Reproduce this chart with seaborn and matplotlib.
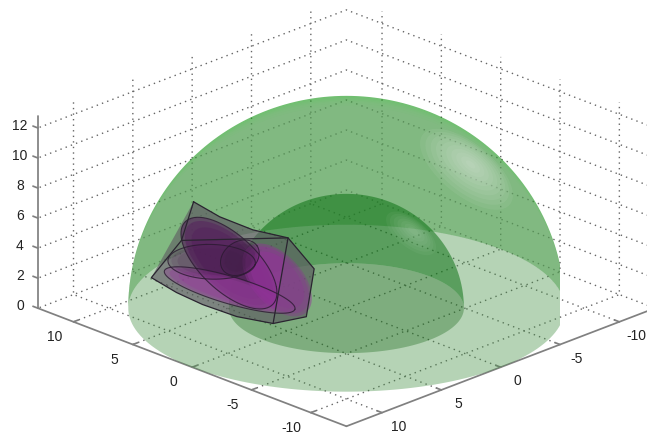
import numpy as np
import matplotlib
matplotlib.use('Agg')
import matplotlib.pyplot as plt
from mpl_toolkits.mplot3d import proj3d
from mpl_toolkits.mplot3d.art3d import Poly3DCollection
import seaborn as sns

# axis values
x_ticks = [-10, -5, 0, 5, 10]
y_ticks = [-10, -5, 0, 5, 10]
z_ticks = [0, 2, 4, 6, 8, 10, 12]
axis_lim = 13
z_top = 12.8

# the two hemispheres
outer_radius = 13
inner_radius = 7

# polytope corners (x, y, z)
hull_a = [7.44, 5.44, 6.48]
hull_b = [7.22, 9.22, 2.64]
hull_c = [1.09, 5.09, 0.19]
hull_d = [0.19, 3.19, 0.34]
hull_e = [1.36, 1.36, 2.62]
hull_f = [2.96, 1.96, 4.38]
hull_i = [7.3, 6.6, 4.3]
hull_g1 = [5.91, 8.41, 1.80]
hull_g2 = [4.56, 7.56, 1.15]
hull_g3 = [2.87, 6.37, 0.50]
hull_h1 = [6.34, 4.34, 5.48]
hull_h2 = [4.69, 3.19, 4.76]

# purple bodies inside: centre, two half axes, colour, alpha per layer
blob_centres = [[4.95, 4.95, 3.0], [4.92, 4.92, 1.21], [2.92, 2.92, 1.88], [5.68, 5.68, 3.09], [4.49, 4.49, 3.36]]
blob_axis1 = [[-2.0, -2.0, -1.6], [-2.75, -2.75, -1.28], [-1.19, -1.19, -2.21], [-1.83, -1.83, -0.2], [-0.72, -0.72, 0.8]]
blob_axis2 = [[0.3, 0.3, 2.6], [0.17, 0.17, -0.87], [-0.85, -0.85, 1.0], [0.21, 0.21, -1.14], [-0.38, -0.38, -0.87]]
blob_colors = ['#551c5c', '#9a3aa0', '#95309c', '#4a1a50', '#3a1a40']
blob_alpha = [1.1, 0.7, 0.9, 0.3, 0.35]
blob_outlined = [True, True, False, True, True]

sns.set_theme(style='white')
plt.rcParams['font.family'] = ['Liberation Sans', 'DejaVu Sans']
plt.rcParams['axes.unicode_minus'] = False

fig = plt.figure(figsize=(6.47, 4.39), dpi=100)
ax = fig.add_axes([17 / 647, 0.5 / 439, 1, 1], projection='3d', computed_zorder=False)
elev = 22.5
ax.set_proj_type('ortho')
ax.view_init(elev=elev, azim=135)
ax.set_xlim(-axis_lim, axis_lim)
ax.set_ylim(-axis_lim, axis_lim)
ax.set_zlim(0, z_top)
ax.set_box_aspect((26, 26, 12.4), zoom=1.44)
ax.set_xticks(x_ticks)
ax.set_yticks(y_ticks)
ax.set_zticks(z_ticks)

for a in [ax.xaxis, ax.yaxis, ax.zaxis]:
    a.set_pane_color((1, 1, 1, 0))
    a.line.set_color('#808080')
    a._axinfo['tick'].update({'inward_factor': 0, 'outward_factor': 0.2})
    a._axinfo['grid'].update({'linestyle': (0, (1, 3)), 'linewidth': 1.0, 'color': '#666666'})
    a.set_tick_params(color='#808080')
    a.set_ticklabels([])
ax.zaxis._axinfo['juggled'] = (1, 2, 0)


def tick_text(x, y, z, label, dx, dy):
    # label placed a fixed distance off its tick
    px, py, _ = proj3d.proj_transform(x, y, z, ax.get_proj())
    ax.annotate(label, xy=(px, py), xytext=(dx, dy), textcoords='offset pixels', ha='center', va='center',
                fontsize=10, color='#222222', annotation_clip=False)


for v in x_ticks:
    tick_text(v, axis_lim, 0, str(v), -19, -14)
for v in y_ticks:
    tick_text(-axis_lim, v, 0, str(v), 17, -13)
for v in z_ticks:
    tick_text(axis_lim, axis_lim, v, str(v), -18, 3)

# screen directions in data space
el = np.radians(elev)
toward = np.array([-1, 1, 0]) / np.sqrt(2)
right = np.array([-1, -1, 0]) / np.sqrt(2)
up = -np.sin(el) * toward + np.cos(el) * np.array([0, 0, 1])
shine_dir = np.array([-0.52, -0.29, 0.81])
shine_dir = shine_dir / np.linalg.norm(shine_dir)


def poly(points, color, alpha, zorder):
    ax.add_collection3d(Poly3DCollection([points], facecolors=color, alpha=alpha, edgecolors='none', zorder=zorder))


def crescent(radius, k):
    # far side of the dome as seen from the camera, k=1 is the outline, k=0 the floor rim
    t = np.linspace(0, np.pi, 121)
    top = radius * (np.outer(np.cos(t), right) + np.outer(np.sin(t), k * up - (1 - k) * toward))
    rim = radius * (np.outer(np.cos(t), right) - np.outer(np.sin(t), toward))
    return np.vstack([top, rim[::-1]])


def cap(radius, angle):
    # small circle on the sphere round the light spot
    a = np.cross(shine_dir, [0, 0, 1])
    a = a / np.linalg.norm(a)
    b = np.cross(shine_dir, a)
    t = np.linspace(0, 2 * np.pi, 73)
    d = np.cos(angle) * shine_dir + np.sin(angle) * (np.outer(np.cos(t), a) + np.outer(np.sin(t), b))
    return radius * d


def disk(radius):
    t = np.linspace(0, 2 * np.pi, 181)
    return np.column_stack([radius * np.cos(t), radius * np.sin(t), np.zeros_like(t)])


# outer hemisphere
poly(crescent(outer_radius, 1), '#0f960f', 0.6, 2)
for k in [0.995, 0.985, 0.975, 0.965, 0.955, 0.94, 0.92]:
    poly(crescent(outer_radius, k), '#b0b0b0', 0.055, 2.1)
poly(disk(outer_radius), '#469146', 0.4, 3)
for deg in [15, 13.5, 12, 10.5, 9, 7.5, 6, 4.5, 3, 1.5]:
    poly(cap(outer_radius, np.radians(deg)), '#f0f0f0', 0.07, 3.5)

# inner hemisphere
poly(crescent(inner_radius, 1), '#006b08', 0.5, 4)
poly(disk(inner_radius), '#005700', 0.3, 5)
for deg in [15, 13, 11, 9, 7, 5, 3]:
    poly(cap(inner_radius, np.radians(deg)), '#e0f0e0', 0.05, 5.5)

# polytope, far faces first
lower_edge = [hull_b, hull_g1, hull_g2, hull_g3, hull_c]
upper_edge = [hull_a, hull_h1, hull_h2, hull_f]
poly(upper_edge + [hull_e, hull_d, hull_c] + lower_edge[::-1], '#5c5460', 0.58, 6)

# purple bodies
u = np.linspace(0, 2 * np.pi, 80)
for n in range(len(blob_centres)):
    c, a1, a2 = np.array(blob_centres[n]), np.array(blob_axis1[n]), np.array(blob_axis2[n])
    for scale in [1, 0.92, 0.78]:
        pts = c + scale * (np.outer(np.cos(u), a1) + np.outer(np.sin(u), a2))
        poly(pts, blob_colors[n], blob_alpha[n] * 0.5, 7)

# near faces
poly([hull_i] + lower_edge + [hull_f], '#5a5560', 0.08, 8)
poly(upper_edge + [hull_i], '#5a5560', 0.15, 8)
poly([hull_f, hull_c, hull_d, hull_e], '#5a6a60', 0.25, 8)

# outlines of the inner bodies
for n in range(len(blob_centres)):
    if not blob_outlined[n]:
        continue
    c, a1, a2 = np.array(blob_centres[n]), np.array(blob_axis1[n]), np.array(blob_axis2[n])
    line = c + np.outer(np.cos(u), a1) + np.outer(np.sin(u), a2)
    ax.plot(line[:, 0], line[:, 1], line[:, 2], color='#2a1a30', lw=0.8, alpha=0.8, zorder=9)

edges = [
    [hull_a, hull_i, hull_b] + lower_edge[1:] + [hull_d, hull_e, hull_f] + upper_edge[::-1][1:],
    [hull_i, hull_f, hull_c],
]
for e in edges:
    e = np.array(e)
    ax.plot(e[:, 0], e[:, 1], e[:, 2], color='#2a2430', lw=0.9, zorder=10)

fig.savefig('out.png', dpi=100)
